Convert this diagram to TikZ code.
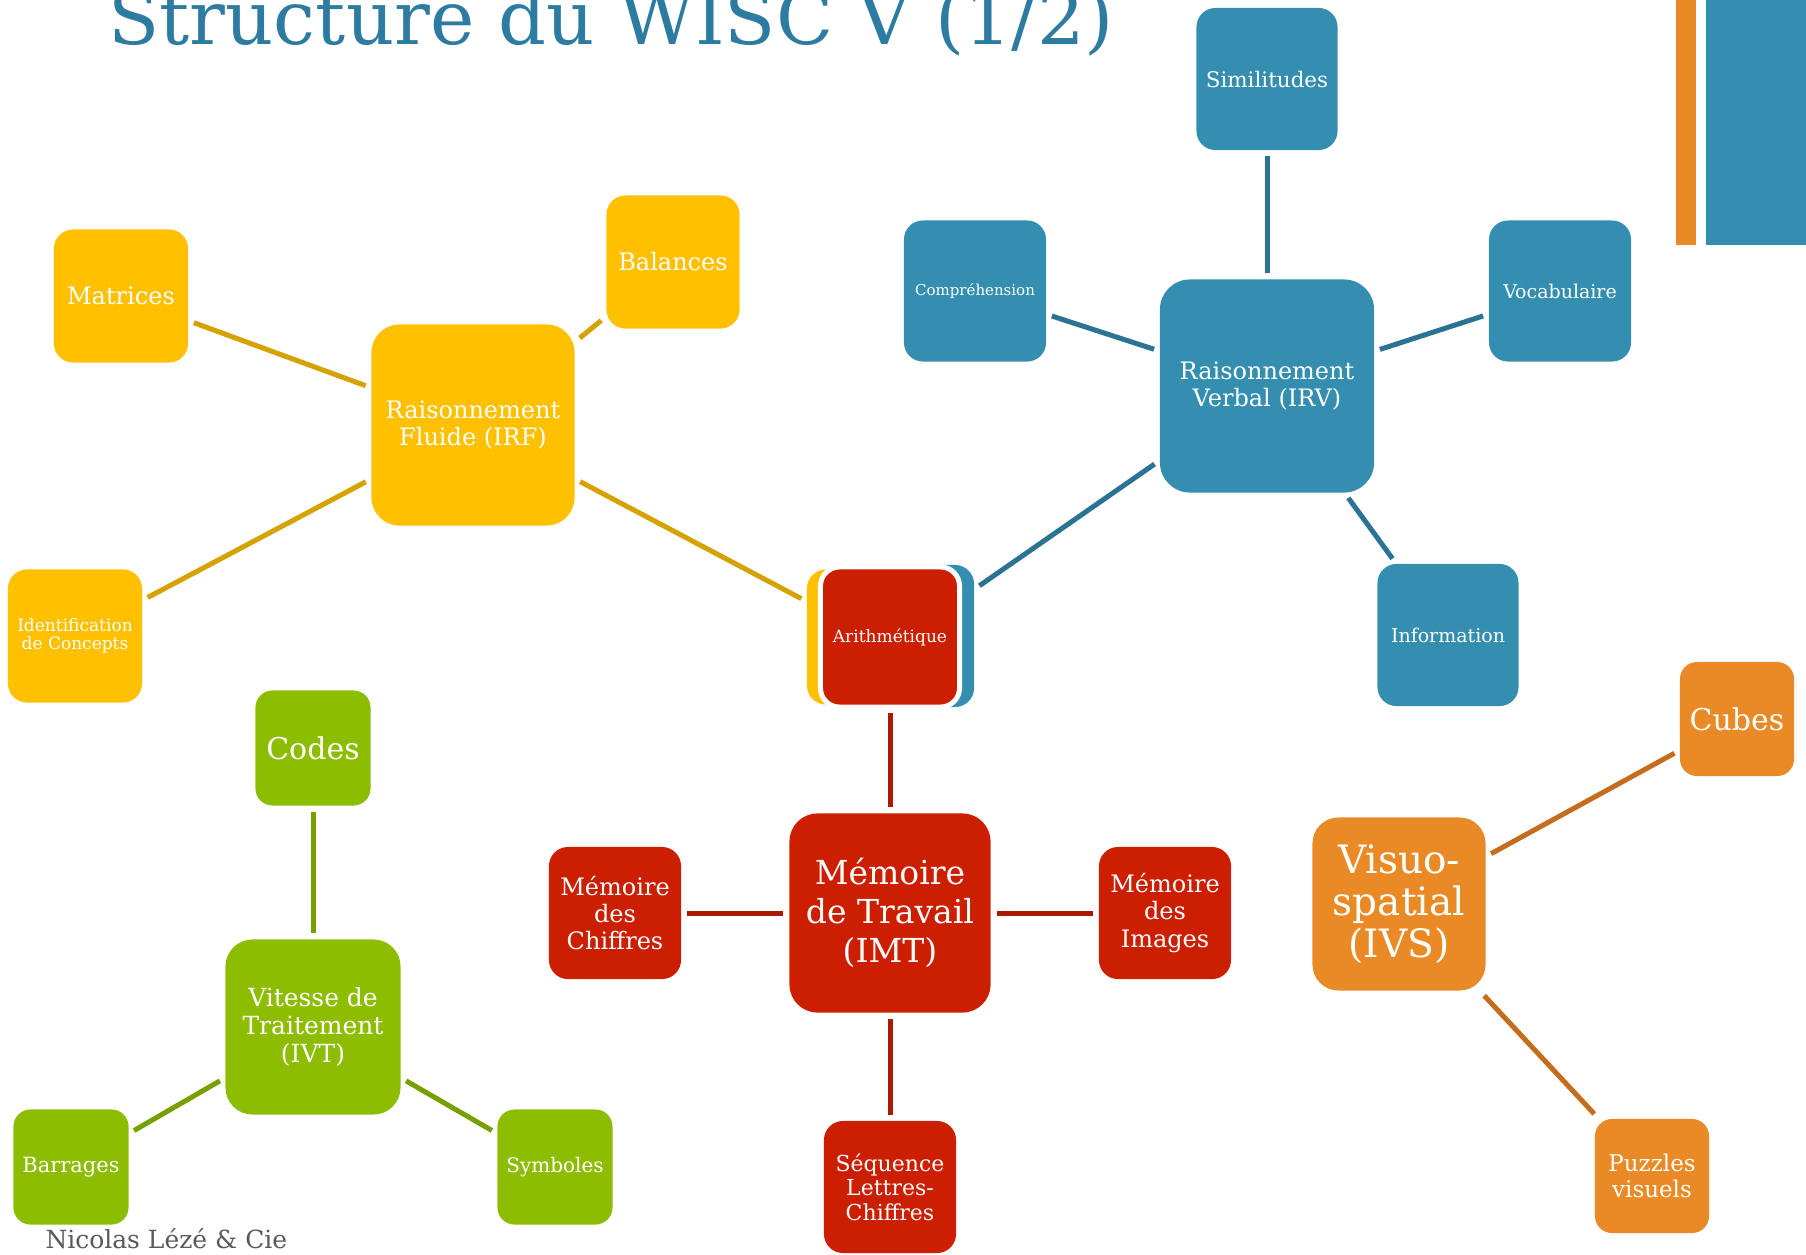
\documentclass[tikz,border=0pt]{standalone}
\usepackage{fontspec}
\setmainfont{DejaVu Serif}

\definecolor{wjaune}{HTML}{FFC000}
\definecolor{wjauneL}{HTML}{D5A200}
\definecolor{wbleu}{HTML}{348EB0}
\definecolor{wbleuL}{HTML}{2A7392}
\definecolor{wrouge}{HTML}{CC1E00}
\definecolor{wrougeL}{HTML}{AA1A00}
\definecolor{wvert}{HTML}{8DBD00}
\definecolor{wvertL}{HTML}{789F00}
\definecolor{worange}{HTML}{E98A26}
\definecolor{worangeL}{HTML}{C56C1D}
\definecolor{wtitre}{HTML}{2E7BA2}
\definecolor{wgris}{HTML}{595959}

\newcommand{\taille}[2]{\fontsize{#1pt}{#2pt}\selectfont}

\begin{document}
\begin{tikzpicture}[x=0.01cm,y=-0.01cm,line width=0.05cm]
  \tikzstyle{boite}=[rounded corners=0.19cm,text=white,align=center,inner sep=0pt,minimum width=1.34cm,minimum height=1.33cm]
  \tikzstyle{grande}=[boite,rounded corners=0.28cm]
  \tikzstyle{lien}=[shorten >=0.035cm,shorten <=0.035cm]
  \tikzstyle{lnJ}=[lien,draw=wjauneL]
  \tikzstyle{lnB}=[lien,draw=wbleuL]
  \tikzstyle{lnR}=[lien,draw=wrougeL]
  \tikzstyle{lnV}=[lien,draw=wvertL]
  \tikzstyle{lnO}=[lien,draw=worangeL]

  \useasboundingbox (0,0) rectangle (1806,1254);

  % bandes en haut a droite
  \fill[worange] (1676,0) rectangle (1696,245);
  \fill[wbleu] (1706,0) rectangle (1806,245);

  \node[anchor=base west,inner sep=0pt,text=wtitre,font=\taille{21.3}{21.3}] (titre) at (106,44) {Structure du WISC V (1/2)};
  \node[anchor=base west,inner sep=0pt,text=wgris,font=\taille{7.1}{7.1}] (auteur) at (43,1248) {Nicolas Lézé \& Cie};

  % raisonnement fluide
  \node[grande,fill=wjaune,minimum width=2.03cm,minimum height=2.01cm,font=\taille{6.83}{7.7}] (irf) at (473,425) {Raisonnement\\Fluide (IRF)};
  \node[boite,fill=wjaune,font=\taille{6.83}{7.7}] (mat) at (121,296) {Matrices};
  \node[boite,fill=wjaune,minimum width=1.33cm,font=\taille{6.83}{7.7}] (bal) at (673,262) {Balances};
  \node[boite,fill=wjaune,font=\taille{4.84}{5}] (idc) at (75,636) {Identification\\de Concepts};

  % raisonnement verbal
  \node[grande,fill=wbleu,rounded corners=0.3cm,minimum width=2.14cm,minimum height=2.13cm,font=\taille{6.83}{7.7}] (irv) at (1267,386) {Raisonnement\\Verbal (IRV)};
  \node[boite,fill=wbleu,minimum width=1.41cm,minimum height=1.42cm,font=\taille{6.1}{7}] (sim) at (1267,79) {Similitudes};
  \node[boite,fill=wbleu,minimum width=1.42cm,minimum height=1.41cm,font=\taille{4.27}{5}] (comp) at (975,291) {Compréhension};
  \node[boite,fill=wbleu,minimum width=1.42cm,minimum height=1.41cm,font=\taille{5.4}{6}] (voc) at (1560,291) {Vocabulaire};
  \node[boite,fill=wbleu,minimum width=1.41cm,minimum height=1.42cm,font=\taille{5.4}{6}] (info) at (1448,635) {Information};

  % arithmetique, commun aux trois indices
  \node[boite,fill=wjaune,minimum height=1.35cm] (arithJ) at (874,637) {};
  \node[boite,fill=wbleu,minimum height=1.42cm] (arithB) at (907,636) {};
  \node[boite,fill=wrouge,draw=white,minimum width=1.39cm,minimum height=1.40cm,font=\taille{4.84}{5}] (arith) at (890,637) {Arithmétique};

  % memoire de travail
  \node[grande,fill=wrouge,minimum width=2.01cm,minimum height=1.99cm,font=\taille{9.39}{11.1}] (imt) at (890,913) {Mémoire\\de Travail\\(IMT)};
  \node[boite,fill=wrouge,minimum width=1.32cm,minimum height=1.32cm,font=\taille{6.83}{7.7}] (chif) at (615,913) {Mémoire\\des\\Chiffres};
  \node[boite,fill=wrouge,minimum width=1.32cm,minimum height=1.32cm,font=\taille{6.83}{7.7}] (img) at (1165,913) {Mémoire\\des\\Images};
  \node[boite,fill=wrouge,minimum width=1.32cm,minimum height=1.32cm,font=\taille{6.26}{7}] (seq) at (890,1187) {Séquence\\Lettres-\\Chiffres};

  % vitesse de traitement
  \node[grande,fill=wvert,rounded corners=0.27cm,minimum width=1.75cm,minimum height=1.75cm,font=\taille{7.1}{8}] (ivt) at (313,1027) {Vitesse de\\Traitement\\(IVT)};
  \node[boite,fill=wvert,rounded corners=0.17cm,minimum width=1.15cm,minimum height=1.15cm,font=\taille{8.54}{9}] (codes) at (313,748) {Codes};
  \node[boite,fill=wvert,rounded corners=0.17cm,minimum width=1.15cm,minimum height=1.15cm,font=\taille{5.97}{6.5}] (barr) at (71,1167) {Barrages};
  \node[boite,fill=wvert,rounded corners=0.17cm,minimum width=1.15cm,minimum height=1.15cm,font=\taille{5.69}{6.5}] (symb) at (555,1167) {Symboles};

  % visuo-spatial
  \node[grande,fill=worange,rounded corners=0.26cm,minimum width=1.73cm,minimum height=1.73cm,font=\taille{11.1}{12}] (ivs) at (1399,904) {Visuo-\\spatial\\(IVS)};
  \node[boite,fill=worange,rounded corners=0.17cm,minimum width=1.14cm,minimum height=1.14cm,font=\taille{8.54}{9}] (cubes) at (1737,719) {Cubes};
  \node[boite,fill=worange,rounded corners=0.17cm,minimum width=1.14cm,minimum height=1.14cm,font=\taille{6.54}{7.4}] (puzz) at (1652,1176) {Puzzles\\visuels};

  \path
  (mat) edge[lnJ] (irf)
  (bal) edge[lnJ] (irf)
  (idc) edge[lnJ] (irf)
  (irf) edge[lnJ] (arithJ)
  (sim) edge[lnB] (irv)
  (comp) edge[lnB] (irv)
  (voc) edge[lnB] (irv)
  (info) edge[lnB] (irv)
  (irv) edge[lnB] (arithB)
  (arith) edge[lnR] (imt)
  (chif) edge[lnR] (imt)
  (img) edge[lnR] (imt)
  (seq) edge[lnR] (imt)
  (codes) edge[lnV] (ivt)
  (barr) edge[lnV] (ivt)
  (symb) edge[lnV] (ivt)
  (cubes) edge[lnO] (ivs)
  (puzz) edge[lnO] (ivs);
\end{tikzpicture}
\end{document}
